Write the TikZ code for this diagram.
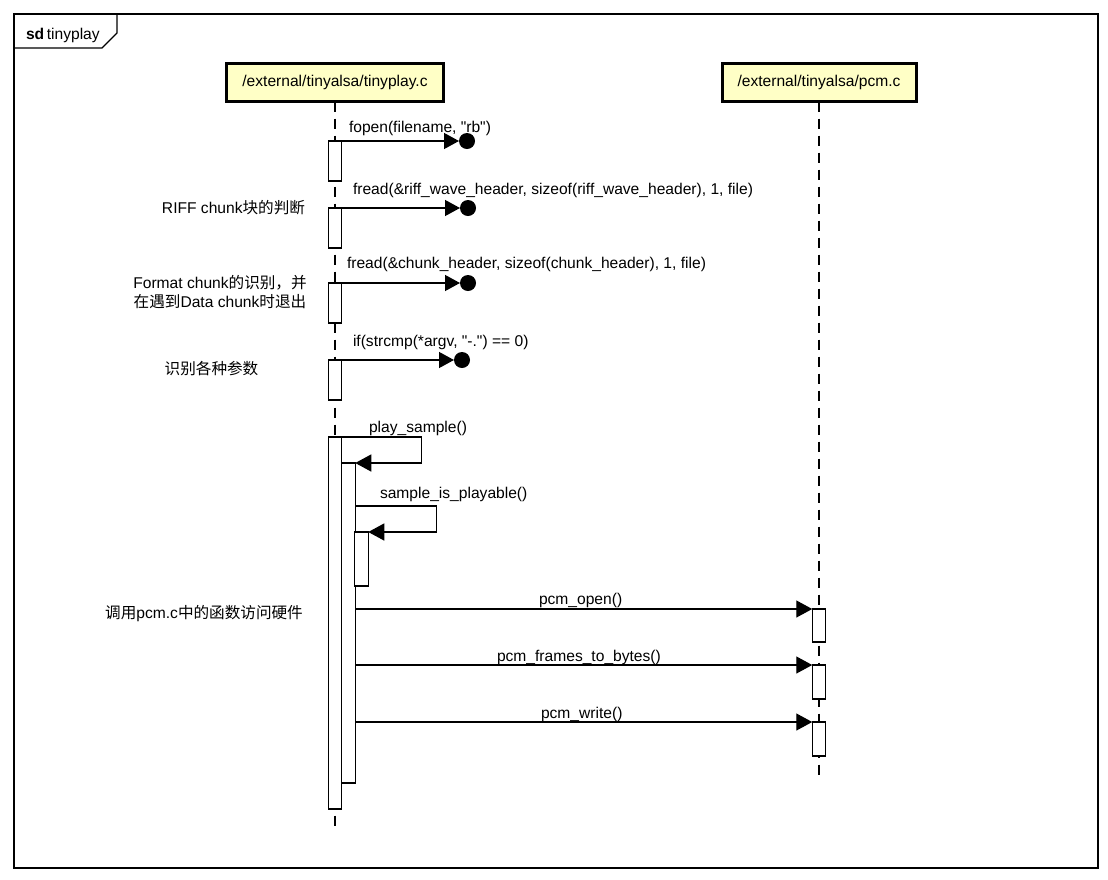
\documentclass[tikz,border=0pt]{standalone}
\usepackage{fontspec}
\setmainfont{Liberation Sans}[Ligatures=TeXOff]
\newfontfamily\cjk{Noto Sans CJK SC}
\usetikzlibrary{arrows.meta}
\definecolor{headfill}{HTML}{FFFFC6}
\newcommand{\dq}{{\char34}}
\begin{document}
\begin{tikzpicture}[x=1pt,y=-1pt,
  every node/.style={font=\fontsize{15.6}{18.5}\selectfont, inner sep=0pt, outer sep=0pt},
  head/.style={draw, line width=3pt, fill=headfill, minimum height=38},
  lifeline/.style={line width=1.2pt, dash pattern=on 10pt off 7pt},
  actbox/.style={draw, fill=white, line width=1.3pt, minimum width=13.5, anchor=north},
  msg/.style={line width=1.3pt, -{Triangle[length=16pt,width=17pt]}},
  lostmsg/.style={line width=1.3pt, -{Triangle[length=15pt,width=16pt]}},
  lostdot/.style={circle, fill=black, minimum size=16},
  lbl/.style={anchor=base west},
  note/.style={align=center}
]
\useasboundingbox (0,0) rectangle (1108,879);
% frame
\draw[line width=1.2pt] (14,14) rectangle (1098,868);
\draw[line width=1.2pt] (14,48) -- (102,48) -- (117,33) -- (117,14);
\node[anchor=base west] (title) at (26,39) {\textbf{sd}\,tinyplay};

% lifeline headers
\node[head, minimum width=217] (h1) at (335,82.5) {/external/tinyalsa/tinyplay.c};
\node[head, minimum width=194] (h2) at (819,82.5) {/external/tinyalsa/pcm.c};
\coordinate (e1) at (335,829);
\coordinate (e2) at (819,777);
\draw[lifeline] (h1.south) -- (e1);
\draw[lifeline] (h2.south) -- (e2);

% activations on tinyplay.c
\node[actbox, minimum height=40] (a1) at (335,141) {};
\node[actbox, minimum height=40] (a2) at (335,208) {};
\node[actbox, minimum height=40] (a3) at (335,283) {};
\node[actbox, minimum height=40] (a4) at (335,360) {};
\node[actbox, minimum height=372] (big) at (335,437) {};
\node[actbox, minimum height=320] (inner) at (348.5,463) {};
\node[actbox, minimum height=54] (inner2) at (361.5,532) {};

% activations on pcm.c
\node[actbox, minimum height=33] (p1) at (819,609) {};
\node[actbox, minimum height=34] (p2) at (819,665) {};
\node[actbox, minimum height=34] (p3) at (819,722) {};

% lost messages
\node[lostdot] (d1) at (467,141) {};
\node[lostdot] (d2) at (468,208) {};
\node[lostdot] (d3) at (468,283) {};
\node[lostdot] (d4) at (462,360) {};
\draw[lostmsg] (a1.north east) -- (d1.west);
\draw[lostmsg] (a2.north east) -- (d2.west);
\draw[lostmsg] (a3.north east) -- (d3.west);
\draw[lostmsg] (a4.north east) -- (d4.west);
\node[lbl] (m1) at (349,132) {fopen(filename, \dq rb\dq)};
\node[lbl] (m2) at (353,194) {fread(\&riff\_wave\_header, sizeof(riff\_wave\_header), 1, file)};
\node[lbl] (m3) at (347,268) {fread(\&chunk\_header, sizeof(chunk\_header), 1, file)};
\node[lbl] (m4) at (353,346) {if(strcmp(*argv, \dq-.\dq) == 0)};

% self messages
\draw[msg] (big.north east) -- ++(80,0) |- (inner.north east);
\node[lbl] (m5) at (369,432) {play\_sample()};
\draw[msg] (inner.north east |- 0,506) -- ++(81,0) |- (inner2.north east);
\node[lbl] (m6) at (380,498) {sample\_is\_playable()};

% calls to pcm.c
\draw[msg] (p1.north west -| inner.east) -- (p1.north west);
\draw[msg] (p2.north west -| inner.east) -- (p2.north west);
\draw[msg] (p3.north west -| inner.east) -- (p3.north west);
\node[lbl] (m7) at (539,604) {pcm\_open()};
\node[lbl] (m8) at (497,661) {pcm\_frames\_to\_bytes()};
\node[lbl] (m9) at (541,718) {pcm\_write()};

% notes
\node[note] (n1) at (233.5,208) {RIFF chunk{\cjk 块的判断}};
\node[note] (n2) at (220,292) {Format chunk{\cjk 的识别，并}\\{\cjk 在遇到}Data chunk{\cjk 时退出}};
\node[note] (n3) at (211.5,369) {{\cjk 识别各种参数}};
\node[note] (n4) at (204,614) {{\cjk 调用}pcm.c{\cjk 中的函数访问硬件}};
\end{tikzpicture}
\end{document}
